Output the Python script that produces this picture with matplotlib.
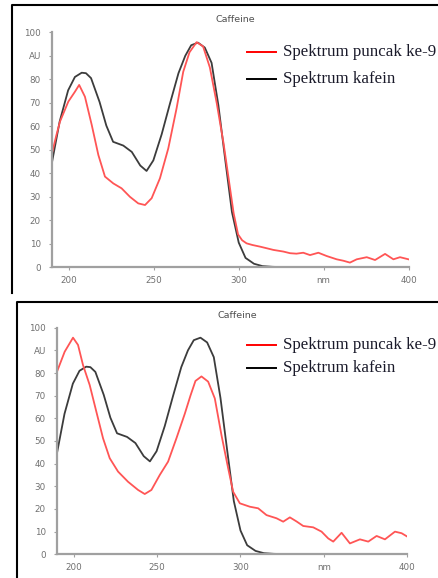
import matplotlib
matplotlib.use("Agg")
import matplotlib.pyplot as plt
from matplotlib.lines import Line2D

W, H = 438, 578

# reference caffeine spectrum (same in both panels)
wl_kafein = [190, 194.5, 199.5, 203.5, 207.5, 210, 213, 218, 222, 226, 232, 237, 242,
             245.7, 249.7, 254.6, 259.5, 264.5, 268.5, 272, 276, 280, 284, 288, 292,
             296, 300, 304, 309, 314, 320, 330, 340, 350, 360, 370, 380, 390, 400]
kafein = [44.7, 62, 75.3, 81, 82.8, 82.6, 80.5, 70.4, 60.3, 53.4, 51.8, 49.1, 43.3,
          41, 45.5, 56.6, 69.7, 82.6, 90, 94.5, 95.6, 93.5, 87, 69, 46,
          23.5, 10.5, 4, 1.5, 0.5, 0.2, 0, 0, 0, 0, 0, 0, 0, 0]

# peak spectrum, upper sample
wl_top = [190, 192.5, 194.7, 199.6, 203.5, 206, 209.4, 213.4, 217.3, 221.2, 226.1, 231,
          235.9, 240.8, 244.8, 248.7, 253.6, 258.5, 263.4, 267.3, 271, 275.2, 279, 283,
          287, 291, 294, 297, 299.6, 302, 304.6, 308, 312.5, 316.5, 320.4, 326.3, 330.2,
          334, 338, 342, 346.9, 351.8, 357.7, 361.6, 365.5, 369.5, 375.4, 380.3, 386.2,
          391.1, 395, 400]
puncak_top = [48.5, 56, 62, 70.5, 74.7, 77.6, 72.6, 60.6, 47.8, 38.6, 35.7, 33.6,
              30, 27.2, 26.5, 29.4, 37.9, 50.6, 67.7, 83.2, 91.5, 95.8, 94, 85,
              70, 53, 38, 23, 14, 11.5, 10.2, 9.5, 8.8, 8.1, 7.4, 6.7, 6,
              5.8, 6.2, 5.2, 6.2, 4.8, 3.4, 2.8, 2, 3.4, 4.3, 3.1, 5.7,
              3.4, 4.3, 3.4]

# peak spectrum, lower sample
wl_bot = [190, 194.6, 199.6, 202.6, 205.6, 209.6, 213.6, 217.6, 221.6, 226.6, 232.6,
          238.6, 242.6, 246.6, 251.6, 256.6, 261.6, 266.6, 270, 273, 276.6, 280.6, 284.6,
          288.6, 292.6, 295.6, 299.6, 305.6, 310.6, 315.6, 321.6, 325.6, 329.6, 333.6,
          337.6, 343.6, 348.6, 352.6, 355.6, 360.6, 365.6, 371.6, 376.6, 381.6, 386.6,
          392.6, 396.6, 400]
puncak_bot = [80.6, 89.4, 95.6, 92.4, 83.5, 74.7, 62.9, 51.2, 42.4, 36.5, 32,
              28.4, 26.6, 28.4, 35, 40.9, 51.2, 62, 70, 76.5, 78.5, 76.2, 68.8,
              52.6, 38, 27.6, 22.5, 21, 20.3, 17.3, 15.9, 14.4, 16.3, 14.5,
              12.5, 11.9, 10, 7, 5.6, 9.5, 4.8, 6.6, 5.6, 8.1, 6.6,
              10, 9.3, 7.8]

yticks = [0, 10, 20, 30, 40, 50, 60, 70, 80, 90, 100]
ylabels = ["0", "10", "20", "30", "40", "50", "60", "70", "80", "AU", "100"]
xticks = [200, 250, 300, 350, 400]
xlabels = ["200", "250", "300", "nm", "400"]
legend_labels = ["Spektrum puncak ke-9", "Spektrum kafein"]

RED = "#ff5555"
DARK = "#3c3c3c"
AXC = "#a0a0a0"


def fx(px):
    return px / W


def fy(py):
    return 1 - py / H


def panel(fig, box, puncak_x, puncak_y, title_py, leg):
    left, right, top, bottom = box
    ax = fig.add_axes([fx(left), fy(bottom), fx(right) - fx(left), fy(top) - fy(bottom)])
    ax.plot(wl_kafein, kafein, color=DARK, lw=1.3, solid_joinstyle="round")
    ax.plot(puncak_x, puncak_y, color=RED, lw=1.3, solid_joinstyle="round")
    ax.set_xlim(190, 400)
    ax.set_ylim(0, 100)
    ax.set_yticks(yticks)
    ax.set_yticklabels(ylabels)
    ax.set_xticks(xticks)
    ax.set_xticklabels(xlabels)
    for s in ["top", "right"]:
        ax.spines[s].set_visible(False)
    for s in ["left", "bottom"]:
        ax.spines[s].set_color(AXC)
        ax.spines[s].set_linewidth(1.6)
    ax.tick_params(length=2, width=0.8, color=AXC, labelsize=6.3,
                   labelcolor="#707070", pad=4)
    ax.tick_params(axis="y", pad=6)
    ax.patch.set_alpha(0)
    fig.text(fx((left + right) / 2 + 5), fy(title_py), "Caffeine", fontsize=6.8,
             color="#505050", ha="center", va="center")

    # legend drawn by hand beside the curves
    (ry, ky) = leg
    for yy, c, lab in [(ry, "#ff0000", legend_labels[0]), (ky, "#000000", legend_labels[1])]:
        fig.add_artist(Line2D([fx(247), fx(276)], [fy(yy), fy(yy)], color=c, lw=1.4))
        fig.text(fx(283), fy(yy), lab, fontsize=12.2, family="Liberation Serif",
                 color="#1a1a2a", ha="left", va="center")
    return ax


fig = plt.figure(figsize=(W / 100, H / 100), dpi=100)

# frame lines around each panel
fig.add_artist(Line2D([fx(12), fx(12), fx(440)], [fy(293), fy(5), fy(5)],
                      color="black", lw=1.5))
fig.add_artist(Line2D([fx(17), fx(17), fx(440)], [fy(580), fy(302), fy(302)],
                      color="black", lw=1.5))

panel(fig, (52, 408.5, 32.3, 267.3), wl_top, puncak_top, 19, (52, 79))
panel(fig, (57, 407.3, 327.7, 554.3), wl_bot, puncak_bot, 315, (345, 368))

fig.savefig("out.png", dpi=100)
